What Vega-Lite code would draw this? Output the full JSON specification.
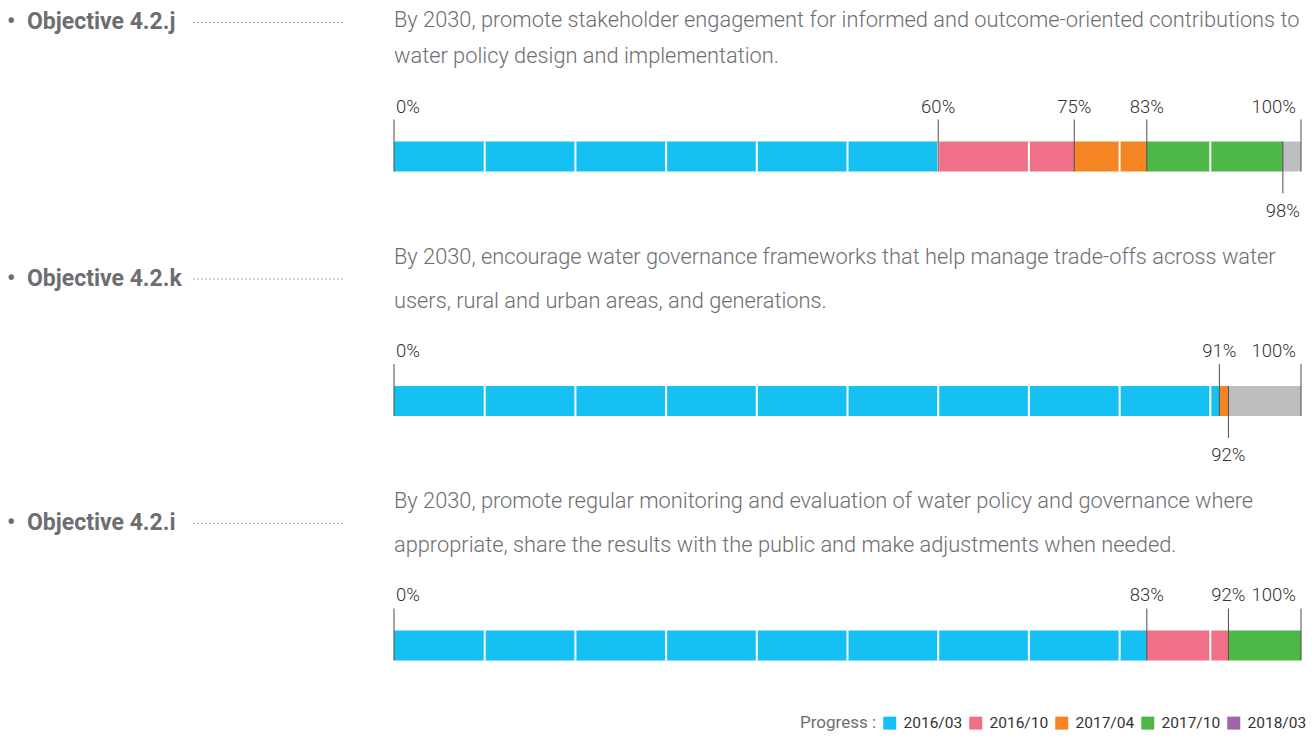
{
  "$schema": "https://vega.github.io/schema/vega-lite/v6.json",
  "width": 1315,
  "height": 740,
  "autosize": {"type": "fit", "contains": "padding"},
  "padding": 0,
  "background": "white",
  "config": {"view": {"stroke": null}},
  "datasets": {
    "segments": [
      {"objective": "4.2.j", "period": "2016/03", "start": 0, "end": 60},
      {"objective": "4.2.j", "period": "2016/10", "start": 60, "end": 75},
      {"objective": "4.2.j", "period": "2017/04", "start": 75, "end": 83},
      {"objective": "4.2.j", "period": "2017/10", "start": 83, "end": 98},
      {"objective": "4.2.j", "period": "remaining", "start": 98, "end": 100},
      {"objective": "4.2.k", "period": "2016/03", "start": 0, "end": 91},
      {"objective": "4.2.k", "period": "2017/04", "start": 91, "end": 92},
      {"objective": "4.2.k", "period": "remaining", "start": 92, "end": 100},
      {"objective": "4.2.i", "period": "2016/03", "start": 0, "end": 83},
      {"objective": "4.2.i", "period": "2016/10", "start": 83, "end": 92},
      {"objective": "4.2.i", "period": "2017/10", "start": 92, "end": 100}
    ],
    "markers": [
      {"objective": "4.2.j", "pct": 0, "label": "0%"},
      {"objective": "4.2.j", "pct": 60, "label": "60%"},
      {"objective": "4.2.j", "pct": 75, "label": "75%"},
      {"objective": "4.2.j", "pct": 83, "label": "83%"},
      {"objective": "4.2.j", "pct": 98, "label": "98%"},
      {"objective": "4.2.j", "pct": 100, "label": "100%"},
      {"objective": "4.2.k", "pct": 0, "label": "0%"},
      {"objective": "4.2.k", "pct": 91, "label": "91%"},
      {"objective": "4.2.k", "pct": 92, "label": "92%"},
      {"objective": "4.2.k", "pct": 100, "label": "100%"},
      {"objective": "4.2.i", "pct": 0, "label": "0%"},
      {"objective": "4.2.i", "pct": 83, "label": "83%"},
      {"objective": "4.2.i", "pct": 92, "label": "92%"},
      {"objective": "4.2.i", "pct": 100, "label": "100%"}
    ],
    "grid": [
      {"objective": "4.2.j", "pcts": [10, 20, 30, 40, 50, 60, 70, 80, 90]},
      {"objective": "4.2.k", "pcts": [10, 20, 30, 40, 50, 60, 70, 80, 90]},
      {"objective": "4.2.i", "pcts": [10, 20, 30, 40, 50, 60, 70, 80, 90]}
    ],
    "objectives": [
      {"objective": "4.2.j", "label": "•\u2002Objective 4.2.j", "line1": "By 2030, promote stakeholder engagement for informed and outcome-oriented contributions to", "line2": "water policy design and implementation."},
      {"objective": "4.2.k", "label": "•\u2002Objective 4.2.k", "line1": "By 2030, encourage water governance frameworks that help manage trade-offs across water", "line2": "users, rural and urban areas, and generations."},
      {"objective": "4.2.i", "label": "•\u2002Objective 4.2.i", "line1": "By 2030, promote regular monitoring and evaluation of water policy and governance where", "line2": "appropriate, share the results with the public and make adjustments when needed."}
    ]
  },
  "encoding": {
    "y": {
      "field": "objective",
      "type": "nominal",
      "axis": null,
      "scale": {"type": "band", "domain": ["4.2.j", "4.2.k", "4.2.i"], "paddingInner": 0, "paddingOuter": 0.0133, "align": 0.5}
    }
  },
  "layer": [
    {
      "data": {"name": "segments"},
      "transform": [{"filter": "datum.period !== 'remaining'"}],
      "mark": {"type": "bar", "height": 30, "yOffset": 31},
      "encoding": {
        "x": {"field": "start", "type": "quantitative", "axis": null, "scale": {"domain": [-43.44, 101.543], "nice": false, "zero": false}},
        "x2": {"field": "end"},
        "color": {
          "field": "period",
          "type": "nominal",
          "scale": {"domain": ["2016/03", "2016/10", "2017/04", "2017/10", "2018/03"], "range": ["#17C0F2", "#F07087", "#F58523", "#4DB848", "#A264A8"]},
          "legend": {
            "title": "Progress :",
            "orient": "bottom-right",
            "offset": 8,
            "direction": "horizontal",
            "titleOrient": "left",
            "titleFont": "Roboto",
            "titleFontWeight": "normal",
            "titleFontSize": 17,
            "titleColor": "#6D6E71",
            "titlePadding": 5,
            "titleBaseline": "middle",
            "labelFont": "Roboto",
            "labelFontSize": 15.5,
            "labelColor": "#333333",
            "labelOffset": 6,
            "symbolType": "square",
            "symbolSize": 169,
            "symbolStrokeWidth": 0,
            "symbolOpacity": 1,
            "columnPadding": 5
          }
        }
      }
    },
    {
      "data": {"name": "segments"},
      "transform": [{"filter": "datum.period === 'remaining'"}],
      "mark": {"type": "bar", "height": 30, "yOffset": 31, "color": "#BCBEC0"},
      "encoding": {
        "x": {"field": "start", "type": "quantitative"},
        "x2": {"field": "end"}
      }
    },
    {
      "data": {"name": "grid"},
      "transform": [{"flatten": ["pcts"], "as": ["pct"]}],
      "mark": {"type": "tick", "orient": "vertical", "size": 30, "thickness": 2, "color": "white", "opacity": 1, "yOffset": 31},
      "encoding": {"x": {"field": "pct", "type": "quantitative"}}
    },
    {
      "data": {"name": "markers"},
      "transform": [{"filter": "!((datum.objective === '4.2.j' && datum.pct === 98) || (datum.objective === '4.2.k' && datum.pct === 92))"}],
      "mark": {"type": "tick", "orient": "vertical", "size": 52, "thickness": 1, "color": "#4D4D4D", "opacity": 1, "yOffset": 20},
      "encoding": {"x": {"field": "pct", "type": "quantitative"}}
    },
    {
      "data": {"name": "markers"},
      "transform": [{"filter": "(datum.objective === '4.2.j' && datum.pct === 98) || (datum.objective === '4.2.k' && datum.pct === 92)"}],
      "mark": {"type": "tick", "orient": "vertical", "size": 52, "thickness": 1, "color": "#4D4D4D", "opacity": 1, "yOffset": 42},
      "encoding": {"x": {"field": "pct", "type": "quantitative"}}
    },
    {
      "data": {"name": "markers"},
      "transform": [{"filter": "datum.pct > 0 && datum.pct < 100 && !((datum.objective === '4.2.j' && datum.pct === 98) || (datum.objective === '4.2.k' && datum.pct === 92))"}],
      "mark": {"type": "text", "align": "center", "baseline": "middle", "dy": -19, "font": "Roboto", "fontWeight": 300, "fontSize": 18.5, "color": "#333333"},
      "encoding": {"x": {"field": "pct", "type": "quantitative"}, "text": {"field": "label"}}
    },
    {
      "data": {"name": "markers"},
      "transform": [{"filter": "datum.pct === 0"}],
      "mark": {"type": "text", "align": "left", "baseline": "middle", "dx": 2, "dy": -19, "font": "Roboto", "fontWeight": 300, "fontSize": 18.5, "color": "#333333"},
      "encoding": {"x": {"field": "pct", "type": "quantitative"}, "text": {"field": "label"}}
    },
    {
      "data": {"name": "markers"},
      "transform": [{"filter": "datum.pct === 100"}],
      "mark": {"type": "text", "align": "right", "baseline": "middle", "dx": -5, "dy": -19, "font": "Roboto", "fontWeight": 300, "fontSize": 18.5, "color": "#333333"},
      "encoding": {"x": {"field": "pct", "type": "quantitative"}, "text": {"field": "label"}}
    },
    {
      "data": {"name": "markers"},
      "transform": [{"filter": "(datum.objective === '4.2.j' && datum.pct === 98) || (datum.objective === '4.2.k' && datum.pct === 92)"}],
      "mark": {"type": "text", "align": "center", "baseline": "middle", "dy": 85, "font": "Roboto", "fontWeight": 300, "fontSize": 18.5, "color": "#333333"},
      "encoding": {"x": {"field": "pct", "type": "quantitative"}, "text": {"field": "label"}}
    },
    {
      "data": {"name": "objectives"},
      "transform": [{"filter": "datum.objective === '4.2.j'"}],
      "mark": {"type": "text", "align": "left", "baseline": "middle", "dy": -103.5, "font": "Roboto", "fontWeight": "bold", "fontSize": 23, "color": "#6D6E71"},
      "encoding": {"x": {"datum": -42.67, "type": "quantitative"}, "text": {"field": "label"}}
    },
    {
      "data": {"name": "objectives"},
      "transform": [{"filter": "datum.objective !== '4.2.j'"}],
      "mark": {"type": "text", "align": "left", "baseline": "middle", "dy": -91, "font": "Roboto", "fontWeight": "bold", "fontSize": 23, "color": "#6D6E71"},
      "encoding": {"x": {"datum": -42.67, "type": "quantitative"}, "text": {"field": "label"}}
    },
    {
      "data": {"name": "objectives"},
      "transform": [{"filter": "datum.objective === '4.2.j'"}],
      "mark": {"type": "rule", "strokeDash": [2, 2], "strokeWidth": 1, "color": "#A7A9AC", "yOffset": -103},
      "encoding": {"x": {"datum": -22.16, "type": "quantitative"}, "x2": {"datum": -5.51}}
    },
    {
      "data": {"name": "objectives"},
      "transform": [{"filter": "datum.objective !== '4.2.j'"}],
      "mark": {"type": "rule", "strokeDash": [2, 2], "strokeWidth": 1, "color": "#A7A9AC", "yOffset": -91},
      "encoding": {"x": {"datum": -22.16, "type": "quantitative"}, "x2": {"datum": -5.51}}
    },
    {
      "data": {"name": "objectives"},
      "transform": [{"filter": "datum.objective === '4.2.j'"}],
      "mark": {"type": "text", "align": "left", "baseline": "middle", "dy": -105.5, "font": "Roboto", "fontWeight": 300, "fontSize": 21.8, "color": "#6D6E71"},
      "encoding": {"x": {"datum": 0, "type": "quantitative"}, "text": {"field": "line1"}}
    },
    {
      "data": {"name": "objectives"},
      "transform": [{"filter": "datum.objective !== '4.2.j'"}],
      "mark": {"type": "text", "align": "left", "baseline": "middle", "dy": -113, "font": "Roboto", "fontWeight": 300, "fontSize": 21.8, "color": "#6D6E71"},
      "encoding": {"x": {"datum": 0, "type": "quantitative"}, "text": {"field": "line1"}}
    },
    {
      "data": {"name": "objectives"},
      "mark": {"type": "text", "align": "left", "baseline": "middle", "dy": -69.5, "font": "Roboto", "fontWeight": 300, "fontSize": 21.8, "color": "#6D6E71"},
      "encoding": {"x": {"datum": 0, "type": "quantitative"}, "text": {"field": "line2"}}
    }
  ]
}
